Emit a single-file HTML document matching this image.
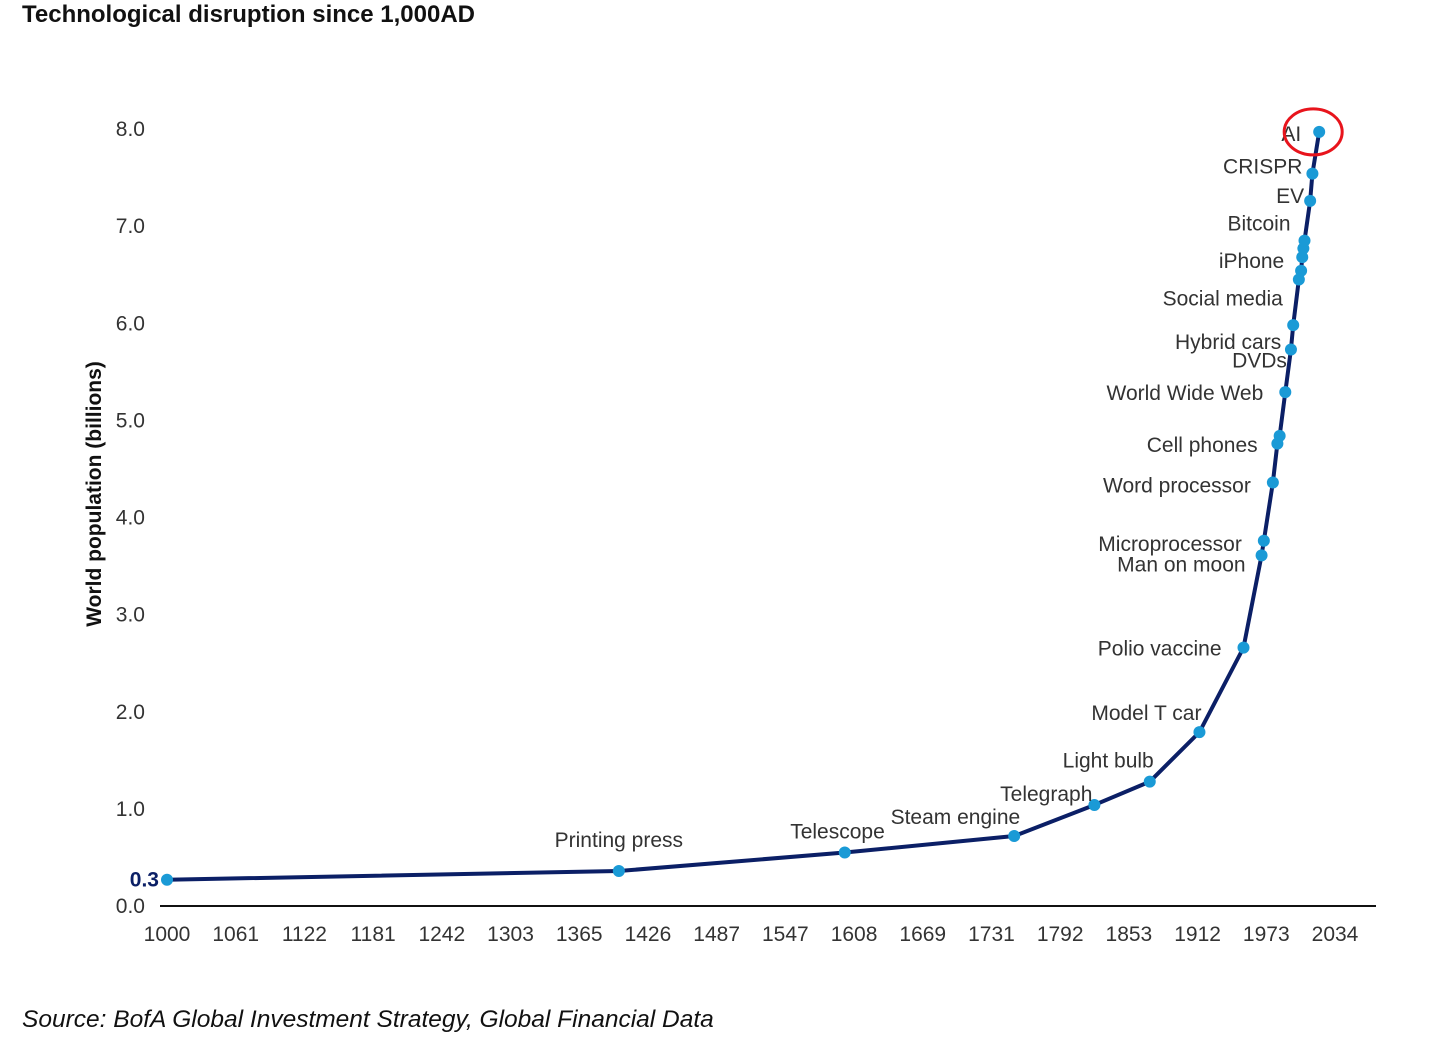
<!DOCTYPE html>
<html><head><meta charset="utf-8">
<style>
html,body{margin:0;padding:0;background:#fff;}
body{width:1456px;height:1054px;position:relative;overflow:hidden;font-family:"Liberation Sans",sans-serif;}
#title{position:absolute;left:22px;top:1px;font-size:24px;font-weight:bold;color:#111;letter-spacing:0px;}
#source{position:absolute;left:22px;top:1006px;font-size:24.5px;font-style:italic;color:#111;}
svg{position:absolute;left:0;top:0;}
svg text{font-family:"Liberation Sans Narrow","Liberation Sans",sans-serif;fill:#333;}
</style></head>
<body>
<div id="title">Technological disruption since 1,000AD</div>
<svg id="chart" width="1456" height="1054"></svg>
<div id="source">Source: BofA Global Investment Strategy, Global Financial Data</div>
<script>
const xTicks=[1000,1061,1122,1181,1242,1303,1365,1426,1487,1547,1608,1669,1731,1792,1853,1912,1973,2034];
const yTicks=[0,1,2,3,4,5,6,7,8];
const years=[1000,1400,1600,1750,1821,1870,1914,1953,1969,1971,1979,1983,1985,1990,1995,1997,2002,2004,2005,2006,2007,2012,2014,2020];
const pops=[0.26,0.35,0.54,0.71,1.03,1.27,1.78,2.65,3.6,3.75,4.35,4.75,4.83,5.28,5.72,5.97,6.44,6.53,6.67,6.76,6.84,7.25,7.53,7.96];
const labels=["","Printing press","Telescope","Steam engine","Telegraph","Light bulb","Model T car","Polio vaccine","Man on moon","Microprocessor","Word processor","","Cell phones","World Wide Web","DVDs","Hybrid cars","Social media","","iPhone","","Bitcoin","EV","CRISPR","AI"];
const labelDx=[0,0,40,6,-2,4,2,-22,-16,-22,-22,0,-22,-22,-4,-12,-16,0,-18,0,-14,-6,-10,-18];
const labelDy=[0,-24,-14,-12,-4,-14,-12,8,16,10,10,0,16,8,18,24,26,0,11,0,-10,2,0,9];
const labelAnchor=["end","middle","end","end","end","end","end","end","end","end","end","end","end","end","end","end","end","end","end","end","end","end","end","end"];

const X0=167,X1=1335,Y0=905,Y1=128;
const xs=y=>X0+(y-1000)/(2034-1000)*(X1-X0);
const ys=v=>Y0-v/8*(Y0-Y1);
const svg=document.getElementById('chart');
const NS='http://www.w3.org/2000/svg';
function mk(t,a){const e=document.createElementNS(NS,t);for(const k in a)e.setAttribute(k,a[k]);svg.appendChild(e);return e;}

const ax=mk('line',{x1:160,x2:1376,y1:Y0+1,y2:Y0+1,stroke:'#111','stroke-width':2});


xTicks.forEach((t,i)=>{const tx=mk('text',{x:X0+i*(X1-X0)/(xTicks.length-1),y:941,'text-anchor':'middle','font-size':21});tx.textContent=t;

});
yTicks.forEach(t=>{const tx=mk('text',{x:145,y:ys(t)+8,'text-anchor':'end','font-size':21});tx.textContent=t.toFixed(1);

});
const z=mk('text',{x:159,y:ys(0.26)+7,'text-anchor':'end','font-size':21,'font-weight':'bold'});z.textContent='0.3';z.style.fill='#0b1f66';


const yt=mk('text',{transform:'translate(101,494) rotate(-90)','text-anchor':'middle','font-size':21,'font-weight':'bold'});yt.textContent='World population (billions)';yt.style.fill='#111';



const line=mk('polyline',{points:years.map((y,i)=>xs(y)+','+ys(pops[i])).join(' '),fill:'none',stroke:'#0b1f66','stroke-width':4,'stroke-linejoin':'round'});


years.forEach((y,i)=>{const c=mk('circle',{cx:xs(y),cy:ys(pops[i]),r:6,fill:'#1a9ad6'});


if(labels[i]){const t=mk('text',{x:xs(y)+labelDx[i],y:ys(pops[i])+labelDy[i],'text-anchor':labelAnchor[i],'font-size':21});t.textContent=labels[i];

}});
const ring=mk('ellipse',{cx:xs(2020)-6,cy:ys(7.96),rx:29,ry:23,fill:'none',stroke:'#e8141c','stroke-width':3});


</script>
</body></html>
